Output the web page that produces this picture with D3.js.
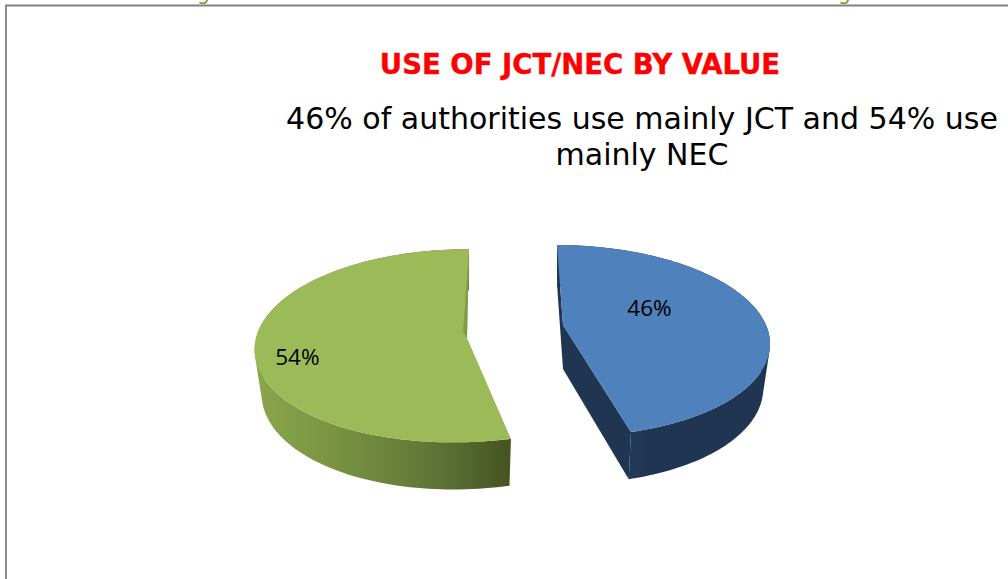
<!DOCTYPE html>
<html>
<head>
<meta charset="utf-8">
<title>Use of JCT/NEC by value</title>
<script src="https://cdn.jsdelivr.net/npm/d3@7"></script>
<style>
  html, body { margin: 0; padding: 0; background: #fff; overflow: hidden; }
</style>
</head>
<body>
<script>
const categories = ["JCT", "NEC"];
const shares = [46, 54];
const titleText = "USE OF JCT/NEC BY VALUE";
const subtitleLines = ["46% of authorities use mainly JCT and 54% use", "mainly NEC"];

const width = 1008, height = 579;

// one entry per slice, the chart was an exploded 3D pie so each has its own apex
// k = perspective, near edge of the disc drawn larger than far edge
const sliceStyle = [
  { ax: 563, ay: 325, rx: 203, ry: 93, k: 0.163, s1: 0.075, s2: 0, top: "#4f81bd", wall: "url(#wallBlue)", side: "#1f3552", labelR: 0.435, labelDy: -12 },
  { ax: 467, ay: 338, rx: 211, ry: 96, k: 0.08, s1: -0.0722, s2: -0.000559, top: "#9bbb59", wall: "url(#wallGreen)", side: "#7f9c47", labelR: 0.8, labelDy: 9 }
];
const depth = 44;
const lowerRx = 0.967, lowerRy = 1.03;

const svg = d3.select("body").append("svg")
  .attr("width", width)
  .attr("height", height)
  .style("display", "block");

const defs = svg.append("defs");

function addGradient(id, x1, x2, stops) {
  const g = defs.append("linearGradient")
    .attr("id", id)
    .attr("gradientUnits", "userSpaceOnUse")
    .attr("x1", x1).attr("x2", x2).attr("y1", 0).attr("y2", 0);
  stops.forEach(s => g.append("stop").attr("offset", s[0]).attr("stop-color", s[1]));
}
addGradient("wallGreen", 258, 511, [[0, "#8aa64b"], [0.45, "#70893f"], [0.75, "#5a7033"], [1, "#465320"]]);
addGradient("wallBlue", 563, 768, [[0, "#1f3552"], [0.3, "#213a5a"], [0.45, "#1f3552"], [1, "#1f3552"]]);

// page furniture: descenders of the cut off line above, and the frame
svg.selectAll("text.cut")
  .data([197, 838])
  .enter().append("text")
  .attr("class", "cut")
  .attr("x", d => d)
  .attr("y", 0)
  .attr("font-family", "DejaVu Sans")
  .attr("font-size", 20)
  .attr("fill", "#6f9a30")
  .text("g");

svg.append("path")
  .attr("d", "M6,579V5.5H1008")
  .attr("fill", "none")
  .attr("stroke", "#808080")
  .attr("stroke-width", 1.8);

svg.append("text")
  .attr("x", 580)
  .attr("y", 74)
  .attr("text-anchor", "middle")
  .attr("font-family", "DejaVu Sans")
  .attr("font-weight", "bold")
  .attr("font-size", 27.5)
  .attr("fill", "#ff0000")
  .attr("stroke", "#ff0000")
  .attr("stroke-width", 0.4)
  .text(titleText);

svg.selectAll("text.sub")
  .data(subtitleLines)
  .enter().append("text")
  .attr("class", "sub")
  .attr("x", 642)
  .attr("y", (d, i) => 129 + i * 36)
  .attr("text-anchor", "middle")
  .attr("font-family", "DejaVu Sans")
  .attr("font-size", 30)
  .attr("fill", "#000")
  .text(d => d);

const pie = d3.pie().sort(null).value(d => d);
const arcs = pie(shares);

// unit disc -> screen, with perspective and a little shear
function project(st, angle, r, lower) {
  const u = r * Math.sin(angle), v = -r * Math.cos(angle);
  const w = 1 - st.k * v;
  const yy = st.ry * v / w;
  const y = yy * (lower ? lowerRy : 1);
  const x = (st.rx * u / w + st.s1 * yy + st.s2 * yy * yy) * (lower ? lowerRx : 1);
  return [st.ax + x, st.ay + y + (lower ? depth : 0)];
}

const line = d3.line();

function rim(st, a0, a1, lower) {
  return d3.range(0, 121).map(i => project(st, a0 + (a1 - a0) * i / 120, 1, lower));
}

const slices = svg.selectAll("g.slice")
  .data(arcs)
  .enter().append("g")
  .attr("class", "slice");

slices.each(function(d, i) {
  const st = sliceStyle[i], g = d3.select(this);
  const apex = project(st, 0, 0, false), apexLow = project(st, 0, 0, true);
  const upper = rim(st, d.startAngle, d.endAngle, false);
  const lower = rim(st, d.startAngle, d.endAngle, true);

  // outer wall as quads in a single path, so the silhouette runs straight
  // from rim to rim and no seams show. All wound the same way or they cancel.
  const wallPath = d3.range(0, 120).map(j => {
    const q = [upper[j], upper[j + 1], lower[j + 1], lower[j]];
    if (d3.polygonArea(q) < 0) q.reverse();
    return line(q) + "Z";
  }).join("");
  g.append("path")
    .attr("d", wallPath)
    .attr("fill", st.wall);

  // cut faces, only the blue slice shows them
  if (i === 0) {
    [[upper[0], lower[0]], [upper[120], lower[120]]].forEach(e => {
      g.append("path")
        .attr("d", line([e[0], apex, apexLow, e[1]]) + "Z")
        .attr("fill", st.side);
    });
  }

  // top face
  g.append("path")
    .attr("d", line([apex].concat(upper)) + "Z")
    .attr("fill", st.top);

  // thin sliver of the far cut face seen on the green slice
  if (i === 1) {
    g.append("path")
      .attr("d", line([upper[120], apex, [apex[0] - 4, apex[1] - 6]]) + "Z")
      .attr("fill", st.side);
  }

  const mid = (d.startAngle + d.endAngle) / 2;
  const p = project(st, mid, st.labelR, false);
  g.append("text")
    .attr("x", p[0])
    .attr("y", p[1] + st.labelDy)
    .attr("dy", "0.35em")
    .attr("text-anchor", "middle")
    .attr("font-family", "Open Sans")
    .attr("font-size", 22.5)
    .attr("fill", "#000")
    .text(Math.round(d.value) + "%");
});
</script>
</body>
</html>
